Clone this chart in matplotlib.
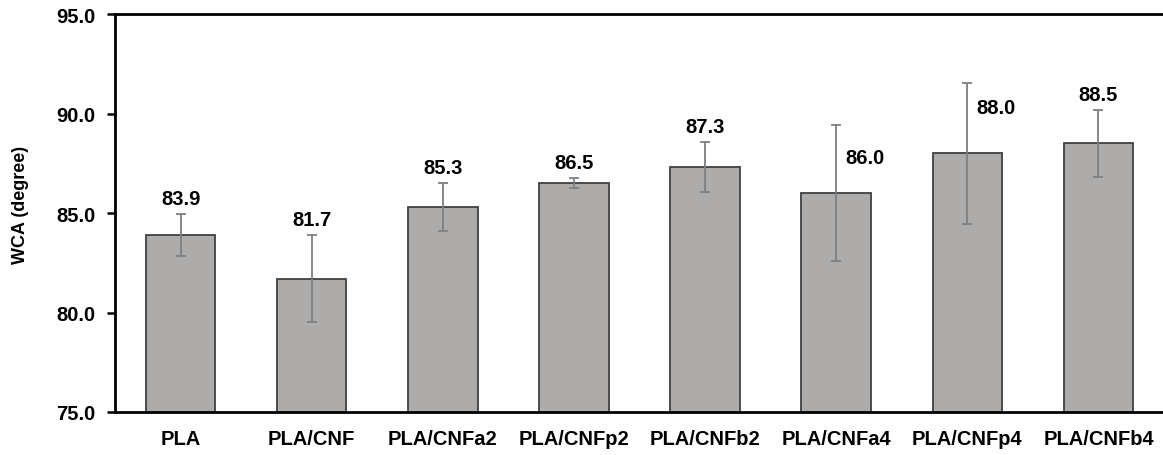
import numpy as np
import matplotlib
matplotlib.use('Agg')
import matplotlib.pyplot as plt

plt.rcParams['font.family'] = ['Liberation Sans', 'DejaVu Sans']
plt.rcParams['font.weight'] = 'bold'

samples = ['PLA', 'PLA/CNF', 'PLA/CNFa2', 'PLA/CNFp2',
           'PLA/CNFb2', 'PLA/CNFa4', 'PLA/CNFp4', 'PLA/CNFb4']
wca = [83.9, 81.7, 85.3, 86.5, 87.3, 86.0, 88.0, 88.5]
wca_err = [1.05, 2.2, 1.2, 0.25, 1.25, 3.4, 3.55, 1.7]
yticks = [75.0, 80.0, 85.0, 90.0, 95.0]

fig = plt.figure(figsize=(11.63, 4.56), dpi=100)
ax = fig.add_axes([0.0989, 0.0943, 0.902, 0.8728])

x = np.arange(len(samples))
ax.bar(x, wca, width=0.53, color='#aeabab', edgecolor='#404040',
       linewidth=1.3, zorder=2)
ax.errorbar(x, wca, yerr=wca_err, fmt='none', ecolor='#7f7f7f',
            elinewidth=1.3, capsize=3.5, capthick=1.3, zorder=3)

# data labels; two of them sit beside the error bar as in the original
for i in range(len(samples)):
    if samples[i] == 'PLA/CNFa4':
        ax.text(x[i] + 0.22, wca[i] + 1.8, '{0:.1f}'.format(wca[i]),
                ha='center', va='center', fontsize=14.5, fontweight='bold')
    elif samples[i] == 'PLA/CNFp4':
        ax.text(x[i] + 0.22, wca[i] + 2.3, '{0:.1f}'.format(wca[i]),
                ha='center', va='center', fontsize=14.5, fontweight='bold')
    else:
        ax.text(x[i], wca[i] + wca_err[i] + 0.3, '{0:.1f}'.format(wca[i]),
                ha='center', va='bottom', fontsize=14.5, fontweight='bold')

ax.set_xlim(-0.5, len(samples) - 0.5)
ax.set_ylim(75, 95)
ax.set_yticks(yticks)
ax.set_yticklabels(['{0:.1f}'.format(v) for v in yticks])
ax.set_xticks(x)
ax.set_xticklabels(samples)
ax.tick_params(axis='y', direction='out', length=6, width=1.8,
               labelsize=14.5, pad=8)
ax.tick_params(axis='x', length=0, labelsize=14.5, pad=12)
ax.set_ylabel('WCA (degree)', fontsize=13, fontweight='bold')
ax.yaxis.set_label_coords(-0.082, 0.523)

for s in ['left', 'bottom', 'top']:
    ax.spines[s].set_linewidth(2)
    ax.spines[s].set_color('black')
ax.spines['right'].set_visible(False)

fig.savefig('out.png', dpi=100)
